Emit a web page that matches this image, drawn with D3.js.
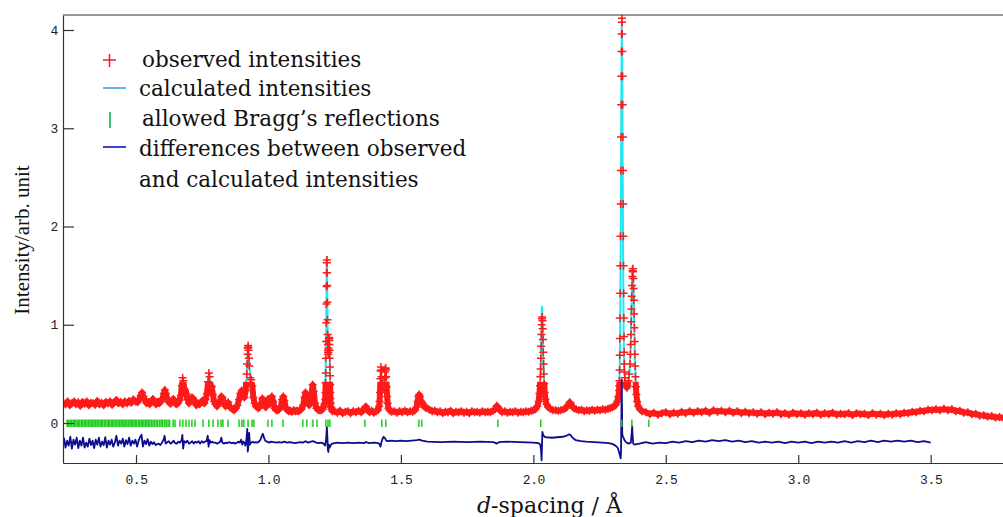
<!DOCTYPE html>
<html>
<head>
<meta charset="utf-8">
<style>
  body { margin: 0; background: #fff; }
  svg { display: block; }
</style>
<script src="https://cdn.jsdelivr.net/npm/d3@7"></script>
</head>
<body>
<div id="chart"></div>
<script>
'use strict';

// axis ticks
var xTicks = [0.5, 1.0, 1.5, 2.0, 2.5, 3.0, 3.5];
var yTicks = [0, 1, 2, 3, 4];

// observed intensities [d-spacing, intensity]
var observed = [
  [0.226,0.21],[0.234,0.19],[0.242,0.22],[0.25,0.18],[0.258,0.2],[0.266,0.22],[0.274,0.19],[0.282,0.21],
  [0.29,0.175],[0.298,0.215],[0.306,0.195],[0.314,0.22],[0.322,0.18],[0.33,0.205],[0.338,0.2],[0.346,0.185],
  [0.354,0.225],[0.362,0.19],[0.37,0.205],[0.378,0.18],[0.386,0.215],[0.394,0.2],[0.402,0.22],[0.41,0.185],
  [0.418,0.21],[0.426,0.235],[0.434,0.2],[0.442,0.215],[0.45,0.19],[0.458,0.22],[0.466,0.2],[0.474,0.225],
  [0.482,0.205],[0.49,0.24],[0.498,0.22],
  [0.506,0.21],[0.512,0.24],[0.518,0.28],[0.523,0.31],[0.528,0.27],[0.534,0.23],[0.54,0.2],[0.546,0.215],
  [0.552,0.19],[0.558,0.22],[0.564,0.245],[0.57,0.21],[0.576,0.19],[0.582,0.215],[0.588,0.2],[0.594,0.22],
  [0.6,0.25],[0.605,0.3],[0.609,0.335],[0.613,0.3],[0.618,0.25],[0.624,0.21],[0.63,0.195],[0.636,0.225],
  [0.641,0.245],[0.646,0.21],[0.652,0.19],[0.658,0.2],[0.664,0.23],[0.669,0.28],[0.673,0.38],[0.676,0.46],
  [0.679,0.43],[0.682,0.35],[0.686,0.33],[0.69,0.3],[0.694,0.24],[0.7,0.2],[0.706,0.22],[0.711,0.26],
  [0.716,0.25],[0.722,0.21],[0.728,0.18],[0.734,0.2],[0.74,0.19],[0.746,0.21],[0.752,0.23],[0.758,0.2],
  [0.763,0.24],[0.768,0.3],[0.772,0.42],[0.775,0.51],[0.778,0.47],[0.782,0.38],[0.786,0.37],[0.79,0.29],
  [0.795,0.22],[0.8,0.19],[0.806,0.17],[0.812,0.2],[0.818,0.23],[0.822,0.27],[0.826,0.26],[0.832,0.2],
  [0.838,0.17],[0.843,0.19],[0.848,0.21],[0.853,0.17],[0.859,0.15],[0.865,0.14],[0.871,0.13],[0.877,0.15],
  [0.883,0.18],[0.889,0.24],[0.894,0.3],[0.899,0.33],[0.904,0.28],[0.909,0.26],[0.914,0.33],[0.918,0.5],
  [0.9195,0.6],[0.921,0.7],[0.922,0.76],[0.923,0.79],[0.924,0.77],[0.925,0.74],[0.9265,0.66],[0.928,0.58],
  [0.931,0.46],[0.935,0.44],[0.939,0.38],[0.943,0.26],[0.948,0.2],[0.953,0.17],[0.958,0.16],[0.963,0.15],
  [0.968,0.17],[0.973,0.2],[0.977,0.25],[0.981,0.23],[0.986,0.17],[0.99,0.16],[0.995,0.2],[0.999,0.245],
  [1.003,0.2],[1.008,0.2],[1.013,0.27],[1.018,0.22],[1.023,0.15],[1.029,0.13],[1.035,0.13],[1.041,0.14],
  [1.047,0.17],[1.052,0.24],[1.056,0.27],[1.06,0.23],[1.065,0.16],[1.071,0.13],[1.077,0.12],[1.083,0.125],
  [1.089,0.115],[1.095,0.13],[1.101,0.12],[1.107,0.125],[1.113,0.12],[1.119,0.13],[1.125,0.14],[1.131,0.18],
  [1.136,0.26],[1.14,0.31],[1.144,0.27],[1.149,0.2],[1.154,0.18],[1.159,0.21],[1.163,0.3],[1.167,0.39],
  [1.171,0.32],[1.176,0.2],[1.181,0.15],[1.187,0.135],[1.193,0.13],[1.199,0.13],[1.205,0.14],[1.209,0.17],
  [1.212,0.19],[1.213,0.2],[1.214,0.24],[1.215,0.31],[1.2158,0.41],[1.2165,0.51],[1.217,0.66],[1.2175,0.83],
  [1.218,1.02],[1.2185,1.21],[1.219,1.39],[1.2195,1.53],[1.22,1.63],[1.2205,1.66],[1.221,1.63],[1.2215,1.53],
  [1.222,1.4],[1.2225,1.23],[1.223,1.05],[1.2235,0.9],[1.224,0.8],[1.2245,0.74],[1.225,0.72],[1.2255,0.7],
  [1.226,0.72],[1.2265,0.76],[1.227,0.8],[1.2275,0.84],[1.228,0.86],[1.2285,0.87],[1.229,0.87],[1.2295,0.86],
  [1.23,0.84],[1.2305,0.8],[1.231,0.74],[1.2315,0.66],[1.232,0.57],[1.2325,0.48],[1.233,0.39],[1.2335,0.31],
  [1.234,0.25],[1.235,0.2],[1.236,0.16],[1.238,0.14],[1.241,0.12],
  [1.25,0.12],[1.26,0.105],[1.27,0.125],[1.28,0.1],[1.29,0.115],[1.3,0.12],[1.31,0.1],[1.32,0.12],
  [1.33,0.11],[1.34,0.125],[1.35,0.11],[1.358,0.13],[1.364,0.16],[1.369,0.165],[1.374,0.13],[1.382,0.11],
  [1.39,0.125],[1.398,0.105],[1.406,0.12],[1.413,0.13],[1.418,0.17],[1.4195,0.22],[1.421,0.31],[1.4225,0.45],
  [1.4235,0.53],[1.4245,0.57],[1.4255,0.54],[1.427,0.47],[1.429,0.4],[1.431,0.37],[1.433,0.36],[1.435,0.37],
  [1.437,0.4],[1.439,0.46],[1.4405,0.52],[1.4415,0.55],[1.4425,0.56],[1.4435,0.54],[1.445,0.47],[1.4465,0.37],
  [1.448,0.27],[1.45,0.2],[1.453,0.15],[1.457,0.13],[1.465,0.115],[1.475,0.12],[1.485,0.105],[1.495,0.12],
  [1.505,0.11],[1.515,0.125],[1.525,0.11],[1.535,0.12],[1.545,0.115],[1.553,0.13],[1.559,0.16],[1.563,0.22],
  [1.566,0.27],[1.569,0.29],[1.572,0.27],[1.575,0.23],[1.578,0.21],[1.582,0.2],[1.587,0.17],[1.593,0.155],
  [1.6,0.15],[1.608,0.135],[1.618,0.12],[1.628,0.125],[1.638,0.11],[1.648,0.12],[1.658,0.1],[1.668,0.115],
  [1.678,0.11],[1.688,0.125],[1.698,0.1],[1.708,0.115],[1.718,0.11],[1.728,0.12],[1.738,0.105],[1.748,0.115],
  [1.758,0.1],[1.768,0.12],[1.778,0.11],[1.788,0.115],[1.798,0.105],[1.808,0.12],[1.818,0.11],[1.828,0.115],
  [1.838,0.11],[1.848,0.125],[1.856,0.14],[1.862,0.175],[1.867,0.16],[1.873,0.13],[1.882,0.11],[1.892,0.12],
  [1.902,0.105],[1.912,0.115],[1.922,0.11],[1.932,0.12],[1.942,0.105],[1.952,0.115],[1.962,0.11],[1.972,0.12],
  [1.982,0.115],[1.992,0.125],[2.0,0.13],[2.008,0.14],[2.015,0.17],[2.02,0.22],[2.023,0.3],[2.025,0.38],
  [2.0265,0.47],[2.0275,0.55],[2.0285,0.66],[2.0295,0.78],[2.0305,0.9],[2.0315,1.0],[2.0325,1.06],[2.0335,1.08],
  [2.0345,1.04],[2.0355,0.96],[2.0365,0.85],[2.0375,0.72],[2.0385,0.6],[2.0395,0.5],[2.041,0.4],[2.043,0.31],
  [2.046,0.24],[2.05,0.19],[2.056,0.16],[2.064,0.145],[2.074,0.13],[2.084,0.13],[2.094,0.125],[2.104,0.13],
  [2.114,0.14],[2.122,0.15],[2.128,0.17],[2.133,0.19],[2.137,0.21],[2.141,0.2],[2.146,0.17],[2.153,0.15],
  [2.162,0.14],[2.172,0.13],[2.182,0.135],[2.192,0.12],[2.202,0.13],[2.212,0.125],[2.222,0.135],[2.232,0.125],
  [2.242,0.135],[2.252,0.13],[2.262,0.14],[2.272,0.135],[2.282,0.145],[2.29,0.15],[2.298,0.16],[2.306,0.17],
  [2.312,0.19],[2.317,0.22],[2.321,0.27],[2.3235,0.33],[2.3243,0.38],[2.3249,0.43],[2.3255,0.54],[2.3261,0.69],
  [2.3267,0.86],[2.3273,1.07],[2.3279,1.32],[2.3285,1.6],[2.3291,1.9],[2.3297,2.23],[2.3303,2.57],[2.3309,2.91],
  [2.3315,3.24],[2.3321,3.53],[2.3327,3.78],[2.3333,3.96],[2.3339,4.08],[2.3345,4.12],[2.3351,4.08],[2.3357,3.96],
  [2.3363,3.78],[2.3369,3.53],[2.3375,3.24],[2.3381,2.91],[2.3387,2.57],[2.3393,2.23],[2.3399,1.9],[2.3405,1.6],
  [2.3411,1.32],[2.3417,1.07],[2.3423,0.88],[2.3429,0.72],[2.3435,0.6],[2.3441,0.52],[2.345,0.46],[2.347,0.41],
  [2.35,0.38],[2.353,0.36],[2.356,0.38],[2.359,0.43],[2.362,0.5],[2.3655,0.6],[2.3665,0.7],[2.3675,0.8],
  [2.3685,0.9],[2.3695,1.03],[2.3705,1.16],[2.3715,1.29],[2.3725,1.4],[2.3735,1.49],[2.3745,1.55],[2.3755,1.57],
  [2.3765,1.54],[2.3775,1.47],[2.3785,1.37],[2.3795,1.25],[2.3805,1.11],[2.3815,0.97],[2.3825,0.83],[2.3835,0.7],
  [2.3845,0.58],[2.3855,0.47],[2.387,0.37],[2.389,0.29],[2.392,0.22],[2.396,0.17],[2.402,0.14],[2.41,0.12],
  [2.425,0.11],[2.44,0.09],[2.455,0.105],[2.47,0.085],[2.485,0.1],[2.5,0.11],[2.515,0.09],[2.53,0.105],
  [2.545,0.095],[2.56,0.115],[2.575,0.1],[2.59,0.12],[2.605,0.105],[2.62,0.12],[2.635,0.11],[2.65,0.125],
  [2.665,0.105],[2.68,0.13],[2.695,0.115],[2.71,0.125],[2.725,0.11],[2.74,0.125],[2.755,0.105],[2.77,0.12],
  [2.785,0.1],[2.8,0.115],[2.815,0.1],[2.83,0.11],[2.845,0.095],[2.86,0.11],[2.875,0.09],[2.89,0.105],
  [2.905,0.095],[2.92,0.11],[2.935,0.09],[2.95,0.1],[2.965,0.085],[2.98,0.105],[2.995,0.09],[3.01,0.1],
  [3.025,0.085],[3.04,0.1],[3.055,0.09],[3.07,0.105],[3.085,0.085],[3.1,0.1],[3.115,0.09],[3.13,0.105],
  [3.145,0.085],[3.16,0.095],[3.175,0.09],[3.19,0.1],[3.205,0.08],[3.22,0.1],[3.235,0.09],[3.25,0.095],
  [3.265,0.08],[3.28,0.1],[3.295,0.085],[3.31,0.095],[3.325,0.08],[3.34,0.095],[3.355,0.085],[3.37,0.1],
  [3.385,0.09],[3.4,0.105],[3.415,0.1],[3.43,0.115],[3.445,0.11],[3.46,0.125],[3.475,0.12],[3.49,0.135],
  [3.505,0.13],[3.52,0.14],[3.535,0.13],[3.55,0.145],[3.565,0.13],[3.58,0.14],[3.595,0.12],[3.61,0.125],
  [3.625,0.105],[3.64,0.11],[3.655,0.09],[3.67,0.095],[3.685,0.075],[3.7,0.08],[3.715,0.065],[3.73,0.07],
  [3.745,0.055],[3.76,0.06],[3.775,0.05]
];

// calculated intensities
var calculated = [
  [0.226,0.2],[0.5,0.2],[0.515,0.25],[0.523,0.29],[0.535,0.21],[0.6,0.22],[0.609,0.32],[0.62,0.22],
  [0.668,0.25],[0.676,0.45],[0.682,0.34],[0.69,0.29],[0.7,0.2],[0.766,0.25],[0.775,0.5],[0.782,0.37],
  [0.79,0.28],[0.8,0.18],[0.822,0.26],[0.84,0.18],[0.87,0.13],[0.899,0.32],[0.91,0.27],[0.918,0.48],
  [0.923,0.78],[0.928,0.56],[0.935,0.43],[0.945,0.22],[0.96,0.15],[0.977,0.22],[0.99,0.16],[1.013,0.25],
  [1.03,0.13],[1.056,0.25],[1.07,0.13],[1.12,0.13],[1.14,0.29],[1.152,0.18],[1.167,0.37],[1.18,0.14],
  [1.205,0.14],[1.214,0.3],[1.2175,0.8],[1.219,1.3],[1.2198,1.62],[1.2205,1.7],[1.2212,1.62],[1.2225,1.2],
  [1.2238,0.84],[1.225,0.72],[1.2275,0.82],[1.229,0.86],[1.231,0.75],[1.233,0.4],[1.236,0.17],[1.25,0.11],
  [1.36,0.11],[1.368,0.15],[1.38,0.11],[1.418,0.16],[1.4245,0.56],[1.433,0.35],[1.4425,0.55],[1.45,0.19],
  [1.46,0.12],[1.555,0.13],[1.569,0.28],[1.585,0.18],[1.6,0.14],[1.65,0.11],[1.85,0.12],[1.862,0.165],
  [1.875,0.12],[2.0,0.12],[2.015,0.16],[2.022,0.25],[2.027,0.5],[2.0295,0.82],[2.0315,1.1],[2.0325,1.19],
  [2.0335,1.12],[2.0355,0.9],[2.038,0.6],[2.042,0.34],[2.048,0.2],[2.06,0.14],[2.1,0.11],[2.12,0.12],
  [2.138,0.19],[2.15,0.13],[2.2,0.11],[2.28,0.13],[2.31,0.17],[2.32,0.24],[2.3245,0.36],[2.3265,0.65],
  [2.3285,1.2],[2.3305,2.2],[2.3325,3.4],[2.334,4.05],[2.3355,3.6],[2.337,2.7],[2.3385,1.9],[2.34,1.2],
  [2.3415,0.8],[2.343,0.55],[2.347,0.42],[2.353,0.35],[2.36,0.42],[2.365,0.6],[2.369,0.95],[2.3725,1.4],
  [2.375,1.6],[2.3775,1.45],[2.3805,1.05],[2.384,0.6],[2.388,0.32],[2.395,0.17],[2.41,0.11],[2.7,0.11],
  [3.4,0.09],[3.55,0.13],[3.77,0.05]
];

// observed minus calculated, shifted down
var difference = [
  [0.228,-0.15],[0.234,-0.25],[0.24,-0.18],[0.246,-0.23],[0.252,-0.14],[0.258,-0.26],[0.264,-0.17],[0.27,-0.22],
  [0.276,-0.15],[0.282,-0.255],[0.288,-0.18],[0.294,-0.23],[0.3,-0.15],[0.306,-0.25],[0.312,-0.2],[0.318,-0.24],
  [0.324,-0.16],[0.33,-0.225],[0.336,-0.18],[0.342,-0.255],[0.348,-0.17],[0.354,-0.22],[0.36,-0.15],[0.366,-0.24],
  [0.372,-0.19],[0.378,-0.225],[0.384,-0.145],[0.39,-0.25],[0.396,-0.18],[0.402,-0.22],[0.408,-0.17],[0.414,-0.24],
  [0.42,-0.2],[0.426,-0.13],[0.432,-0.23],[0.438,-0.18],[0.444,-0.21],[0.45,-0.16],[0.456,-0.24],[0.462,-0.175],
  [0.468,-0.215],[0.474,-0.15],[0.48,-0.23],[0.486,-0.18],[0.492,-0.21],[0.498,-0.17],[0.504,-0.24],[0.51,-0.18],
  [0.516,-0.14],[0.521,-0.12],[0.526,-0.24],[0.532,-0.18],[0.538,-0.215],[0.544,-0.165],[0.55,-0.23],[0.556,-0.19],
  [0.562,-0.215],[0.568,-0.195],[0.574,-0.225],[0.58,-0.215],[0.586,-0.21],[0.592,-0.225],[0.598,-0.2],[0.604,-0.17],
  [0.608,-0.13],[0.612,-0.21],[0.618,-0.195],[0.624,-0.185],[0.63,-0.21],[0.636,-0.2],[0.642,-0.18],[0.648,-0.205],
  [0.654,-0.21],[0.66,-0.19],[0.666,-0.2],[0.672,-0.175],[0.675,-0.12],[0.678,-0.26],[0.682,-0.185],[0.688,-0.2],
  [0.694,-0.18],[0.7,-0.21],[0.706,-0.2],[0.712,-0.185],[0.718,-0.21],[0.724,-0.19],[0.73,-0.2],[0.736,-0.185],
  [0.742,-0.21],[0.748,-0.185],[0.754,-0.2],[0.76,-0.19],[0.766,-0.185],[0.771,-0.13],[0.774,-0.24],[0.778,-0.175],
  [0.782,-0.2],[0.788,-0.19],[0.794,-0.2],[0.8,-0.2],[0.806,-0.21],[0.812,-0.2],[0.818,-0.19],[0.822,-0.15],
  [0.826,-0.2],[0.832,-0.21],[0.838,-0.2],[0.844,-0.205],[0.85,-0.195],[0.856,-0.2],[0.862,-0.205],[0.868,-0.2],
  [0.874,-0.21],[0.88,-0.2],[0.886,-0.19],[0.892,-0.2],[0.897,-0.17],[0.901,-0.22],[0.905,-0.19],[0.909,-0.2],
  [0.913,-0.23],[0.917,-0.17],[0.92,-0.06],[0.922,-0.29],[0.924,-0.24],[0.927,-0.1],[0.93,-0.22],[0.934,-0.2],
  [0.94,-0.19],[0.946,-0.2],[0.952,-0.195],[0.958,-0.2],[0.964,-0.19],[0.97,-0.17],[0.975,-0.13],[0.979,-0.11],
  [0.983,-0.15],[0.988,-0.18],[0.995,-0.19],[1.003,-0.2],[1.01,-0.19],[1.02,-0.195],[1.03,-0.2],[1.04,-0.195],
  [1.05,-0.2],[1.06,-0.19],[1.07,-0.2],[1.08,-0.195],[1.09,-0.2],[1.1,-0.205],[1.11,-0.2],[1.12,-0.195],
  [1.13,-0.2],[1.14,-0.185],[1.15,-0.2],[1.16,-0.19],[1.17,-0.185],[1.18,-0.2],[1.19,-0.205],[1.2,-0.2],
  [1.208,-0.21],[1.214,-0.23],[1.218,-0.16],[1.2205,-0.04],[1.2225,-0.14],[1.224,-0.26],[1.226,-0.295],[1.228,-0.22],
  [1.231,-0.25],[1.234,-0.23],[1.24,-0.21],[1.25,-0.205],[1.26,-0.2],[1.28,-0.205],[1.3,-0.2],[1.32,-0.205],
  [1.34,-0.2],[1.36,-0.205],[1.368,-0.195],[1.38,-0.205],[1.4,-0.2],[1.415,-0.205],[1.42,-0.22],[1.423,-0.24],
  [1.426,-0.2],[1.43,-0.165],[1.435,-0.14],[1.44,-0.155],[1.445,-0.18],[1.45,-0.185],[1.46,-0.18],[1.48,-0.185],
  [1.5,-0.18],[1.52,-0.185],[1.54,-0.18],[1.56,-0.175],[1.57,-0.17],[1.58,-0.18],[1.6,-0.19],[1.65,-0.195],
  [1.7,-0.19],[1.75,-0.195],[1.8,-0.19],[1.85,-0.195],[1.862,-0.21],[1.87,-0.195],[1.9,-0.19],[1.95,-0.195],
  [2.0,-0.2],[2.02,-0.205],[2.026,-0.22],[2.029,-0.27],[2.031,-0.38],[2.0325,-0.25],[2.034,-0.09],[2.037,-0.12],
  [2.042,-0.14],[2.05,-0.145],[2.07,-0.15],[2.09,-0.145],[2.11,-0.14],[2.125,-0.13],[2.135,-0.115],[2.14,-0.12],
  [2.148,-0.15],[2.16,-0.175],[2.18,-0.185],[2.2,-0.19],[2.23,-0.195],[2.26,-0.2],[2.285,-0.205],[2.3,-0.215],
  [2.31,-0.23],[2.318,-0.25],[2.323,-0.29],[2.327,-0.33],[2.3295,-0.36],[2.331,-0.3],[2.3325,0.1],[2.3335,0.44],
  [2.3345,0.2],[2.3355,-0.1],[2.337,-0.13],[2.34,-0.15],[2.345,-0.18],[2.352,-0.2],[2.36,-0.21],[2.368,-0.2],
  [2.3715,-0.1],[2.373,-0.03],[2.3745,-0.12],[2.377,-0.21],[2.382,-0.22],[2.39,-0.215],[2.4,-0.21],[2.425,-0.195],
  [2.45,-0.21],[2.475,-0.2],[2.5,-0.205],[2.525,-0.19],[2.55,-0.2],[2.575,-0.185],[2.6,-0.195],[2.625,-0.18],
  [2.65,-0.19],[2.675,-0.175],[2.7,-0.185],[2.725,-0.175],[2.75,-0.19],[2.775,-0.18],[2.8,-0.195],[2.825,-0.185],
  [2.85,-0.2],[2.875,-0.19],[2.9,-0.2],[2.925,-0.19],[2.95,-0.205],[2.975,-0.19],[3.0,-0.2],[3.025,-0.19],
  [3.05,-0.205],[3.075,-0.19],[3.1,-0.2],[3.125,-0.19],[3.15,-0.2],[3.175,-0.185],[3.2,-0.2],[3.225,-0.185],
  [3.25,-0.195],[3.275,-0.18],[3.3,-0.195],[3.325,-0.18],[3.35,-0.19],[3.375,-0.18],[3.4,-0.19],[3.425,-0.18],
  [3.45,-0.195],[3.475,-0.185],[3.5,-0.2]
];

// allowed Bragg reflections (d-spacing)
var braggPeaks = [
  0.240,0.245,0.251,0.256,0.262,0.267,0.272,0.278,0.283,0.288,0.294,0.299,0.305,0.310,0.315,0.321,
  0.326,0.331,0.337,0.342,0.348,0.353,0.358,0.364,0.369,0.374,0.380,0.385,0.391,0.396,0.401,0.407,
  0.412,0.417,0.423,0.428,0.434,0.439,0.444,0.450,0.455,0.460,0.466,0.471,0.477,0.482,0.487,0.493,
  0.498,0.503,0.509,0.514,0.520,0.525,0.530,0.536,0.541,0.546,0.552,0.558,0.564,0.570,0.576,0.582,
  0.589,0.595,0.601,0.608,0.614,0.621,0.627,0.640,0.647,0.666,0.677,0.689,0.700,0.711,0.723,0.753,
  0.775,0.791,0.809,0.821,0.828,0.847,0.889,0.900,0.907,0.923,0.938,0.945,0.998,1.013,1.055,1.130,
  1.145,1.168,1.183,1.217,1.225,1.232,1.364,1.428,1.443,1.568,1.579,1.866,2.028,2.334,2.372,2.436
];

var legendLabels = [
  'observed intensities',
  'calculated intensities',
  'allowed Bragg\u2019s reflections',
  'differences between observed',
  'and calculated intensities'
];

var width = 1003, height = 517;
var plot = { left: 63, right: 1003, top: 15, bottom: 463 };

var svg = d3.select('#chart')
            .append('svg')
            .attr('width', width)
            .attr('height', height);

var x = d3.scaleLinear().domain([0.2244, 3.773]).range([plot.left, plot.right]);
var y = d3.scaleLinear().domain([-0.4071, 4.1527]).range([plot.bottom, plot.top]);

var defs = svg.append('defs');

defs.append('clipPath')
    .attr('id', 'plotClip')
    .append('rect')
    .attr('x', plot.left + 1)
    .attr('y', plot.top)
    .attr('width', plot.right - plot.left)
    .attr('height', plot.bottom - plot.top - 1);

// the dense noisy band only fills the low part of the pattern
defs.append('clipPath')
    .attr('id', 'bandClip')
    .append('rect')
    .attr('x', plot.left + 1)
    .attr('y', y(0.42))
    .attr('width', plot.right - plot.left)
    .attr('height', plot.bottom - y(0.42));

var area = svg.append('g').attr('clip-path', 'url(#plotClip)');

var line = d3.line()
             .x(function(p) { return x(p[0]); })
             .y(function(p) { return y(p[1]); });

// calculated pattern
area.append('path')
    .datum(calculated)
    .attr('d', line)
    .attr('fill', 'none')
    .attr('stroke', '#22e6f0')
    .attr('stroke-width', 2);

// observed: band + crosses
area.append('g')
    .attr('clip-path', 'url(#bandClip)')
    .append('path')
    .datum(observed)
    .attr('d', line)
    .attr('fill', 'none')
    .attr('stroke', '#ff1a1a')
    .attr('stroke-width', 6)
    .attr('stroke-linejoin', 'round');

var crossPath = observed.map(function(p) {
  var cx = x(p[0]), cy = y(p[1]);
  return 'M' + (cx - 4) + ',' + cy + 'h8M' + cx + ',' + (cy - 4) + 'v8';
}).join('');

area.append('path')
    .attr('d', crossPath)
    .attr('fill', 'none')
    .attr('stroke', '#ff1a1a')
    .attr('stroke-width', 1.5);

// difference curve
area.append('path')
    .datum(difference)
    .attr('d', line)
    .attr('fill', 'none')
    .attr('stroke', '#0c0c8e')
    .attr('stroke-width', 1.8)
    .attr('stroke-linejoin', 'round');

// Bragg reflection ticks
area.selectAll('line.bragg')
    .data(braggPeaks)
    .enter()
    .append('line')
    .classed('bragg', true)
    .attr('x1', function(d) { return x(d); })
    .attr('x2', function(d) { return x(d); })
    .attr('y1', y(0.035))
    .attr('y2', y(-0.04))
    .attr('stroke', '#1fcc1f')
    .attr('stroke-width', 1.5);

// axes
var xAxis = d3.axisBottom(x)
              .tickValues(xTicks)
              .tickFormat(d3.format('.1f'))
              .tickSizeInner(-8)
              .tickSizeOuter(0)
              .tickPadding(12);

var yAxis = d3.axisLeft(y)
              .tickValues(yTicks)
              .tickFormat(d3.format('d'))
              .tickSizeInner(-11)
              .tickSizeOuter(0)
              .tickPadding(5);

var gx = svg.append('g')
            .attr('transform', 'translate(0,' + plot.bottom + ')')
            .call(xAxis);

var gy = svg.append('g')
            .attr('transform', 'translate(' + plot.left + ',0)')
            .call(yAxis);

[gx, gy].forEach(function(g) {
  g.select('.domain').attr('stroke', '#333').attr('stroke-width', 1.2);
  g.selectAll('.tick line').attr('stroke', '#333').attr('stroke-width', 1.2);
  g.selectAll('.tick text')
   .attr('fill', '#222')
   .style('font-family', '"Liberation Mono", monospace')
   .style('font-size', '13px')
   .style('letter-spacing', '-0.4px');
});

// top frame
svg.append('line')
   .attr('x1', plot.left)
   .attr('x2', plot.right)
   .attr('y1', plot.top)
   .attr('y2', plot.top)
   .attr('stroke', '#333')
   .attr('stroke-width', 1.2);

// axis titles
svg.append('text')
   .attr('transform', 'translate(29,240) rotate(-90)')
   .attr('text-anchor', 'middle')
   .style('font-family', '"Liberation Serif", serif')
   .style('font-size', '21px')
   .attr('fill', '#111')
   .text('Intensity/arb. unit');

var xTitle = svg.append('text')
                .attr('x', 477)
                .attr('y', 513)
                .style('font-family', '"DejaVu Serif", serif')
                .style('font-size', '22px')
                .attr('fill', '#111');
xTitle.append('tspan').style('font-style', 'italic').text('d');
xTitle.append('tspan').text('-spacing / \u00c5');

// legend
var legend = svg.append('g').style('font-family', '"DejaVu Serif", serif').style('font-size', '21.5px');

legend.append('path')
      .attr('d', 'M103,60h13M109.5,54v13')
      .attr('stroke', '#ff1a1a')
      .attr('stroke-width', 1.5);

legend.append('line')
      .attr('x1', 103).attr('x2', 126).attr('y1', 88).attr('y2', 88)
      .attr('stroke', '#29a3e0').attr('stroke-width', 1.5);

legend.append('line')
      .attr('x1', 110).attr('x2', 110).attr('y1', 112).attr('y2', 128)
      .attr('stroke', '#3cbf6a').attr('stroke-width', 2);

legend.append('line')
      .attr('x1', 103).attr('x2', 126).attr('y1', 147).attr('y2', 147)
      .attr('stroke', '#0000cc').attr('stroke-width', 1.5);

var legendX = [142, 139, 142, 139, 139];
var legendY = [67, 96, 126, 156, 187];

legend.selectAll('text')
      .data(legendLabels)
      .enter()
      .append('text')
      .attr('x', function(d, i) { return legendX[i]; })
      .attr('y', function(d, i) { return legendY[i]; })
      .attr('fill', '#111')
      .text(function(d) { return d; });
</script>
</body>
</html>
